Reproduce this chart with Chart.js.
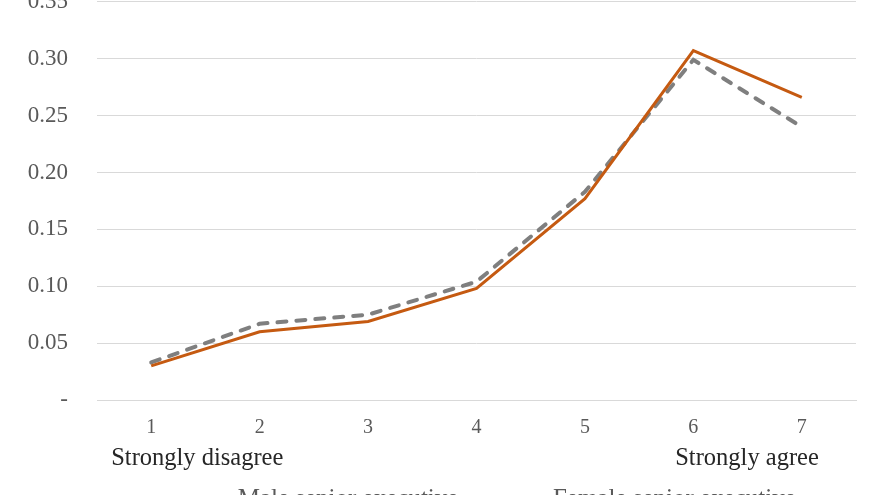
<!DOCTYPE html>
<html>
<head>
<meta charset="utf-8">
<script src="https://cdn.jsdelivr.net/npm/chart.js@4/dist/chart.umd.min.js"></script>
<style>
  html, body { margin: 0; padding: 0; background: #fff; overflow: hidden; }
  #wrap { position: absolute; left: 0; top: -41px; width: 880px; height: 563px; }
</style>
</head>
<body>
<div id="wrap"><canvas id="myChart"></canvas></div>
<script>
// 데이터
const categories = ['1', '2', '3', '4', '5', '6', '7'];
const maleValues = [0.033, 0.067, 0.075, 0.104, 0.183, 0.299, 0.240];
const femaleValues = [0.030, 0.060, 0.069, 0.098, 0.177, 0.307, 0.266];
const yTicks = [0, 0.05, 0.10, 0.15, 0.20, 0.25, 0.30, 0.35];
const endLabels = ['Strongly disagree', 'Strongly agree'];

const serif = '"Liberation Serif", "Times New Roman", serif';

// x축 아래 양 끝 설명 글자
const endLabelPlugin = {
    id: 'endLabels',
    afterDraw(chart) {
        const x = chart.scales.x;
        const ctx = chart.ctx;
        const y = chart.chartArea.bottom + 65;
        ctx.save();
        ctx.font = '24.5px ' + serif;
        ctx.fillStyle = '#262626';
        ctx.textBaseline = 'alphabetic';
        ctx.textAlign = 'left';
        ctx.fillText(endLabels[0], x.getPixelForValue(0) - 40, y);
        ctx.textAlign = 'right';
        ctx.fillText(endLabels[1], x.getPixelForValue(6) + 17, y);
        ctx.restore();
    }
};

const ctx = document.getElementById('myChart');
const myChart = new Chart(ctx, {
    type: 'line',
    data: {
        labels: categories,
        datasets: [{
            label: 'Male senior executive',
            data: maleValues,
            borderColor: '#7f7f7f',
            borderWidth: 4,
            borderDash: [9, 10],
            borderCapStyle: 'round',
            pointRadius: 0,
            tension: 0,
            order: 2
        }, {
            label: 'Female senior executive',
            data: femaleValues,
            borderColor: '#c55a11',
            borderWidth: 3,
            pointRadius: 0,
            tension: 0,
            order: 1
        }]
    },
    options: {
        responsive: true,
        maintainAspectRatio: false,
        animation: false,
        layout: { padding: { top: 21, right: 24, left: 0, bottom: 0 } },
        plugins: {
            tooltip: { enabled: false },
            legend: {
                position: 'bottom',
                fullSize: false,
                labels: {
                    sort: (a, b) => a.datasetIndex - b.datasetIndex,
                    usePointStyle: true,
                    pointStyle: 'line',
                    pointStyleWidth: 68,
                    boxWidth: 68,
                    boxHeight: 22,
                    padding: 14,
                    color: '#595959',
                    font: { family: serif, size: 25 }
                }
            }
        },
        scales: {
            x: {
                offset: true,
                grid: { display: false, drawTicks: false },
                border: { display: true, color: '#d9d9d9', width: 1 },
                ticks: {
                    color: '#595959',
                    padding: 16,
                    font: { family: serif, size: 20 }
                },
                afterFit: (scale) => { scale.height = 73; }
            },
            y: {
                min: 0,
                max: 0.35,
                afterBuildTicks: (scale) => { scale.ticks = yTicks.map(v => ({ value: v })); },
                grid: { color: '#d9d9d9', lineWidth: 1, drawTicks: false },
                border: { display: false },
                ticks: {
                    color: '#595959',
                    padding: 29,
                    font: { family: serif, size: 23 },
                    callback: (v) => v === 0 ? '-' : v.toFixed(2)
                },
                afterFit: (scale) => { scale.width = 97; }
            }
        }
    },
    plugins: [endLabelPlugin]
});
</script>
</body>
</html>
